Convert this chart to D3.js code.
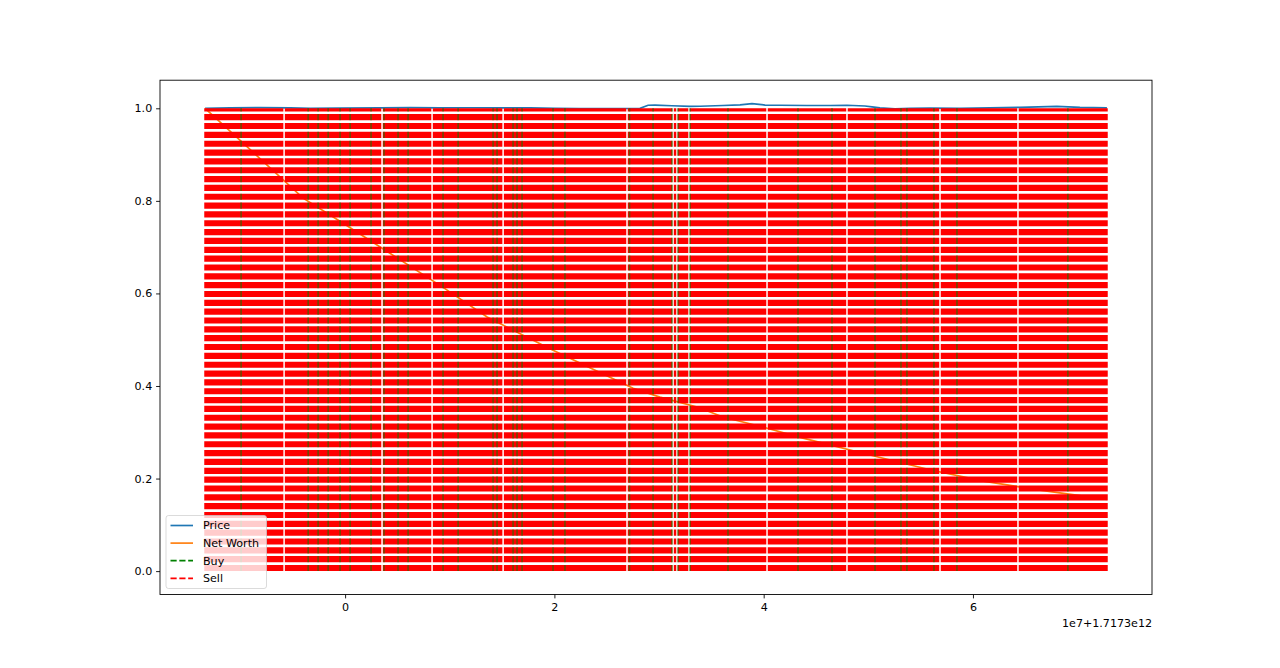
<!DOCTYPE html>
<html>
<head>
<meta charset="utf-8">
<script src="https://d3js.org/d3.v7.min.js"></script>
<style>
    body { margin: 0; background: white; }
    svg text { font-family: 'DejaVu Sans', sans-serif; font-size: 11.1px; fill: #000; }
</style>
</head>
<body>
<svg id="chart" width="1280" height="668"></svg>
<script>
// time axis in units of 1e7 ms, offset 1.7173e12
var priceT = [-1.338, -1.099, -0.812, -0.525, -0.334, -0.048, 0.334, 0.621, 0.908, 1.194, 1.481, 1.768, 2.006, 2.245, 2.532, 2.818,
    2.895, 2.962, 3.124, 3.296, 3.392, 3.611, 3.774, 3.888, 4.013, 4.156, 4.414, 4.634, 4.796, 4.968, 5.035, 5.111,
    5.255, 5.398, 5.589, 5.876, 6.162, 6.449, 6.802, 7.022, 7.280];
var priceV = [1.000, 1.001, 1.0015, 1.001, 1.000, 1.0005, 1.001, 1.0015, 1.001, 1.0012, 1.001, 1.0008, 1.000, 0.9995, 0.9995, 1.000,
    1.0065, 1.007, 1.0055, 1.004, 1.0045, 1.006, 1.0075, 1.0102, 1.007, 1.0065, 1.006, 1.006, 1.0065, 1.005, 1.003, 1.001,
    0.999, 1.000, 1.0005, 1.000, 1.001, 1.002, 1.004, 1.002, 1.001];

var worthT = [-1.338, -0.401, 0.000, 0.936, 1.357, 1.987, 2.752, 3.009, 3.372, 3.611, 4.000, 4.347, 5.016, 5.608, 6.115, 6.640, 7.280];
var worthV = [1.000, 0.806, 0.749, 0.613, 0.549, 0.477, 0.395, 0.376, 0.354, 0.333, 0.311, 0.289, 0.251, 0.218, 0.194, 0.175, 0.155];

var buyT = [-0.994, -0.353, -0.258, -0.162, -0.048, 0.048, 0.248, 0.372, 0.506, 0.602, 0.936, 1.080, 1.414, 1.452, 1.605, 1.643,
    1.691, 1.987, 2.101, 2.718, 2.943, 3.124, 3.181, 3.296, 3.659, 4.328, 4.653, 5.064, 5.312, 5.369, 5.627, 5.847, 6.907];

// sell signals come in runs of consecutive minutes
var sellRuns = [[-1.338, -0.598], [-0.568, 0.338], [0.368, 0.816], [0.846, 1.495], [1.525, 2.679], [2.709, 3.119],
    [3.149, 3.157], [3.187, 3.272], [3.302, 4.017], [4.047, 4.781], [4.811, 5.670], [5.700, 6.415], [6.445, 7.280]];

var xTicks = [0, 2, 4, 6];
var yTicks = [0, 0.2, 0.4, 0.6, 0.8, 1.0];
var legendNames = ['Price', 'Net Worth', 'Buy', 'Sell'];

var axLeft = 160, axRight = 1152, axTop = 80.2, axBottom = 594.5;
var lw = 1.67, dash = '6.17 2.67';

var allT = priceT.concat(worthT, sellRuns.map(d => d[0]), sellRuns.map(d => d[1]));
var tMin = d3.min(allT), tMax = d3.max(allT);
var vMin = 0, vMax = d3.max(priceV);
var tPad = (tMax - tMin) * 0.05, vPad = (vMax - vMin) * 0.05;

var x = d3.scaleLinear().domain([tMin - tPad, tMax + tPad]).range([axLeft, axRight]);
var y = d3.scaleLinear().domain([vMin - vPad, vMax + vPad]).range([axBottom, axTop]);

var svg = d3.select('#chart');
svg.append('defs').append('clipPath').attr('id', 'clip')
    .append('rect').attr('x', axLeft).attr('y', axTop).attr('width', axRight - axLeft).attr('height', axBottom - axTop);

var plot = svg.append('g').attr('clip-path', 'url(#clip)');

var line = d3.line().x(d => x(d[0])).y(d => y(d[1]));

plot.append('path')
    .datum(priceT.map((t, i) => [t, priceV[i]]))
    .attr('d', line).attr('fill', 'none').attr('stroke', '#1f77b4').attr('stroke-width', lw);

plot.append('path')
    .datum(worthT.map((t, i) => [t, worthV[i]]))
    .attr('d', line).attr('fill', 'none').attr('stroke', '#ff7f0e').attr('stroke-width', lw);

// sell runs: many dashed vlines from 0 to 1 merge into one band
plot.selectAll('.sell')
    .data(sellRuns)
    .join('line')
    .attr('class', 'sell')
    .attr('x1', d => (x(d[0]) + x(d[1])) / 2)
    .attr('x2', d => (x(d[0]) + x(d[1])) / 2)
    .attr('y1', y(0))
    .attr('y2', y(1))
    .attr('stroke', 'red')
    .attr('stroke-width', d => x(d[1]) - x(d[0]) + lw)
    .attr('stroke-dasharray', dash);

// buy lines peek through the sell band
plot.selectAll('.buy')
    .data(buyT)
    .join('line')
    .attr('class', 'buy')
    .attr('x1', d => x(d)).attr('x2', d => x(d))
    .attr('y1', y(0)).attr('y2', y(1))
    .attr('stroke', 'rgb(0,128,0)')
    .attr('stroke-opacity', 0.55)
    .attr('stroke-width', 1.67)
    .attr('stroke-dasharray', dash);

// axes
var xAxis = d3.axisBottom(x).tickValues(xTicks).tickFormat(d3.format('d')).tickSizeOuter(0).tickSize(3.9).tickPadding(4.5);
var yAxis = d3.axisLeft(y).tickValues(yTicks).tickFormat(d3.format('.1f')).tickSizeOuter(0).tickSize(3.9).tickPadding(3.9);

var gx = svg.append('g').attr('transform', 'translate(0,' + axBottom + ')').call(xAxis);
var gy = svg.append('g').attr('transform', 'translate(' + axLeft + ',0)').call(yAxis);
[gx, gy].forEach(g => {
    g.attr('font-size', null).attr('font-family', null);
    g.select('.domain').remove();
    g.selectAll('line').attr('stroke', '#000').attr('stroke-width', 0.89);
});

svg.append('rect')
    .attr('x', axLeft).attr('y', axTop).attr('width', axRight - axLeft).attr('height', axBottom - axTop)
    .attr('fill', 'none').attr('stroke', '#000').attr('stroke-width', 0.89);

svg.append('text')
    .attr('x', axRight).attr('y', 627)
    .attr('text-anchor', 'end')
    .text('1e7+1.7173e12');

// legend
var lg = svg.append('g').attr('transform', 'translate(166,515.5)');
lg.append('rect')
    .attr('width', 100.5).attr('height', 73)
    .attr('rx', 2.5)
    .attr('fill', 'white').attr('fill-opacity', 0.8)
    .attr('stroke', '#cccccc').attr('stroke-opacity', 0.8).attr('stroke-width', 0.89);

var legendStyle = [
    { c: '#1f77b4', d: null },
    { c: '#ff7f0e', d: null },
    { c: 'green', d: dash },
    { c: 'red', d: dash }
];
legendNames.forEach((name, i) => {
    var yy = 10 + i * 17.6;
    lg.append('line')
        .attr('x1', 4.5).attr('x2', 27).attr('y1', yy).attr('y2', yy)
        .attr('stroke', legendStyle[i].c).attr('stroke-width', lw)
        .attr('stroke-dasharray', legendStyle[i].d);
    lg.append('text')
        .attr('x', 37).attr('y', yy).attr('dy', '0.36em')
        .text(name);
});
</script>
</body>
</html>
